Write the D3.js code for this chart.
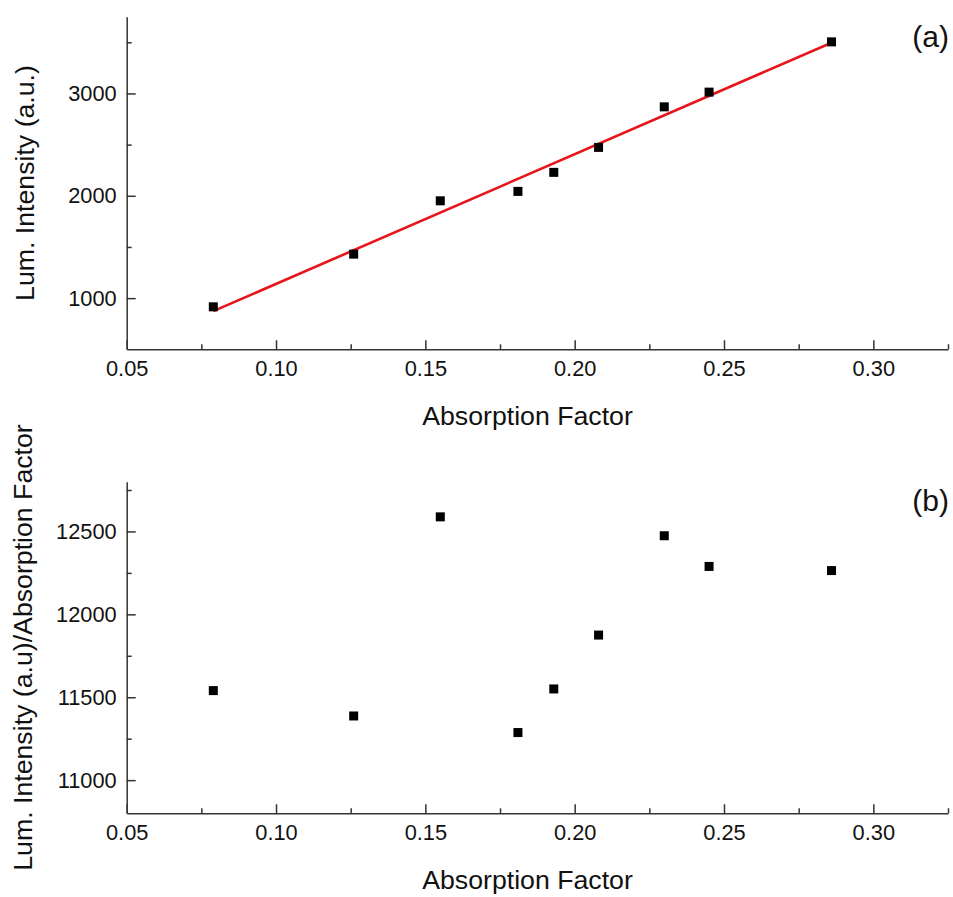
<!DOCTYPE html>
<html>
<head>
<meta charset="utf-8">
<script src="https://cdn.jsdelivr.net/npm/d3@7"></script>
<style>
  html, body { margin: 0; padding: 0; background: #fff; }
  svg { display: block; font-family: "Liberation Sans", Arial, sans-serif; }
  .axis path, .axis line { stroke: #333; stroke-width: 1.5; }
  .axis text { fill: #111; font-size: 21.8px; }
</style>
</head>
<body>
<svg id="chart" width="953" height="897"></svg>
<script>
// Absorption factor of each sample
const absorption = [0.079, 0.126, 0.155, 0.181, 0.193, 0.208, 0.230, 0.245, 0.286];
// Luminescence intensity (a.u.)
const intensity = [915, 1430, 1951, 2043, 2229, 2473, 2869, 3013, 3504];
// Intensity divided by absorption factor
const ratio = [11540, 11387, 12588, 11287, 11550, 11875, 12474, 12289, 12264];
// Linear fit endpoints for panel (a)
const fitX = [0.079, 0.286];
const fitY = [873, 3496];

const xTicks = [0.05, 0.10, 0.15, 0.20, 0.25, 0.30];
const xMinor = [0.075, 0.125, 0.175, 0.225, 0.275, 0.325];
const yTicksA = [1000, 2000, 3000];
const yMinorA = [1500, 2500, 3500];
const yTicksB = [11000, 11500, 12000, 12500];
const yMinorB = [11250, 11750, 12250, 12750];

const svg = d3.select("#chart");
const left = 126.7, right = 948;

const x = d3.scaleLinear().domain([0.05, 0.325]).range([left, right]);

function panel(cfg) {
  const y = d3.scaleLinear().domain(cfg.yDomain).range([cfg.bottom, cfg.top]);
  const g = svg.append("g");

  // minor ticks (no labels)
  g.append("g").attr("class", "axis")
    .attr("transform", `translate(0,${cfg.bottom})`)
    .call(d3.axisBottom(x).tickValues(xMinor).tickSizeInner(-5).tickSizeOuter(0).tickFormat(""))
    .call(a => a.select(".domain").remove());
  g.append("g").attr("class", "axis")
    .attr("transform", `translate(${left},0)`)
    .call(d3.axisLeft(y).tickValues(cfg.yMinor).tickSizeInner(-5).tickSizeOuter(0).tickFormat(""))
    .call(a => a.select(".domain").remove());

  // major ticks with labels
  g.append("g").attr("class", "axis")
    .attr("transform", `translate(0,${cfg.bottom})`)
    .call(d3.axisBottom(x).tickValues(xTicks).tickSizeInner(-9).tickSizeOuter(0)
      .tickPadding(11).tickFormat(d3.format(".2f")));
  g.append("g").attr("class", "axis")
    .attr("transform", `translate(${left},0)`)
    .call(d3.axisLeft(y).tickValues(cfg.yTicks).tickSizeInner(-9).tickSizeOuter(0)
      .tickPadding(10).tickFormat(d3.format("d")));

  // fit line
  if (cfg.fit) {
    g.append("path")
      .datum(fitX.map((v, i) => [v, fitY[i]]))
      .attr("fill", "none")
      .attr("stroke", "#e8141b")
      .attr("stroke-width", 2.6)
      .attr("d", d3.line().x(d => x(d[0])).y(d => y(d[1])));
  }

  // square markers
  const s = 9;
  g.append("g").selectAll("rect")
    .data(absorption.map((v, i) => [v, cfg.values[i]]))
    .join("rect")
    .attr("x", d => x(d[0]) - s / 2)
    .attr("y", d => y(d[1]) - s / 2)
    .attr("width", s).attr("height", s)
    .attr("fill", "#000");

  // axis titles
  g.append("text")
    .attr("x", 527.5).attr("y", cfg.bottom + 76)
    .attr("text-anchor", "middle")
    .attr("font-size", "26.7px").attr("fill", "#111")
    .text("Absorption Factor");
  g.append("text")
    .attr("transform", `translate(${cfg.yTitleX},${(cfg.top + cfg.bottom) / 2}) rotate(-90)`)
    .attr("text-anchor", "middle")
    .attr("font-size", "26.7px").attr("fill", "#111")
    .text(cfg.yTitle);

  // panel letter
  g.append("text")
    .attr("x", 949).attr("y", cfg.letterY)
    .attr("text-anchor", "end")
    .attr("font-size", "30px").attr("fill", "#111")
    .text(cfg.letter);
}

panel({
  top: 16.7, bottom: 349.3, yDomain: [500, 3750],
  yTicks: yTicksA, yMinor: yMinorA, values: intensity, fit: true,
  yTitle: "Lum. Intensity (a.u.)", yTitleX: 33.5,
  letter: "(a)", letterY: 47
});

panel({
  top: 481.7, bottom: 813.3, yDomain: [10800, 12800],
  yTicks: yTicksB, yMinor: yMinorB, values: ratio, fit: false,
  yTitle: "Lum. Intensity (a.u)/Absorption Factor", yTitleX: 31.7,
  letter: "(b)", letterY: 511
});
</script>
</body>
</html>
